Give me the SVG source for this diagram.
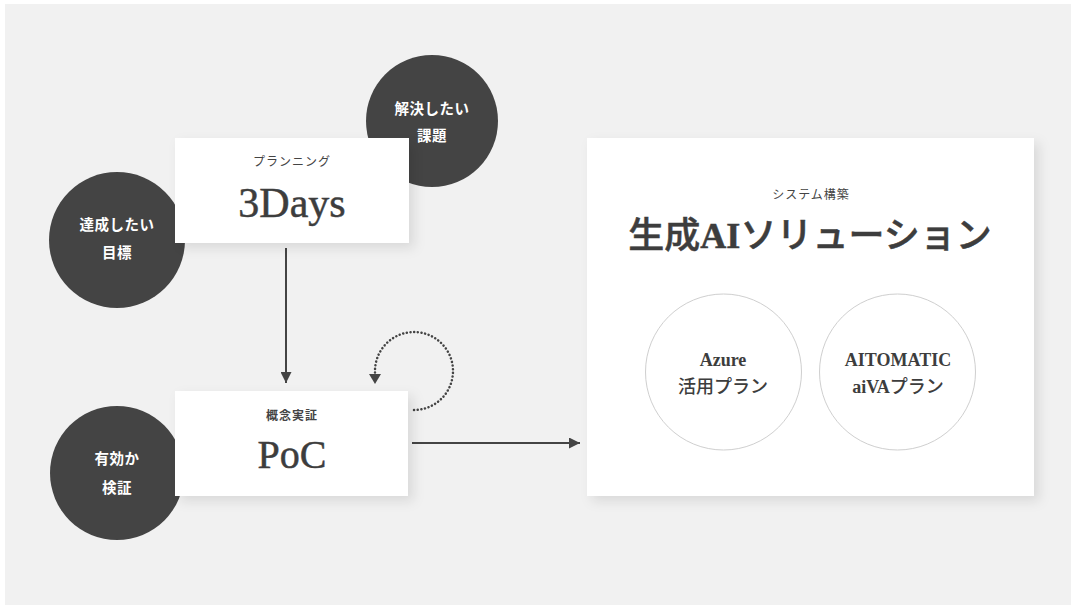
<svg xmlns="http://www.w3.org/2000/svg" width="1071" height="605" viewBox="0 0 1071 605">
<defs>
<style>
.bg{fill:#f1f1f1}
.dark{fill:#444}
.box{fill:#fff}
.ctext{font-family:"Liberation Serif","Noto Sans CJK JP",serif;fill:#fff;font-size:14.5px;font-weight:700;text-anchor:middle;letter-spacing:0.5px}
.sub{font-family:"Liberation Serif","Noto Sans CJK JP",serif;fill:#444;font-size:12px;text-anchor:middle;letter-spacing:1px}
.big{font-family:"Liberation Serif","Noto Sans CJK JP",serif;fill:#3d3d3d;text-anchor:middle;stroke:#3d3d3d;stroke-width:0.5}
.plan{fill:#fff;stroke:#cfcfcf;stroke-width:1}
.ptext{font-family:"Liberation Serif","Noto Sans CJK JP",serif;fill:#3d3d3d;font-size:18px;text-anchor:middle}
.conn{stroke:#444;stroke-width:2;fill:none}
.dot{stroke:#444;stroke-width:2.5;fill:none;stroke-dasharray:0.1 3.6;stroke-linecap:round}
</style>
<filter id="sh" x="-20%" y="-20%" width="150%" height="160%">
<feDropShadow dx="5" dy="5" stdDeviation="6" flood-color="#000" flood-opacity="0.10"/>
</filter>
<marker id="ah" viewBox="0 0 10 10" refX="10" refY="5" markerWidth="5.5" markerHeight="5.5" orient="auto" markerUnits="strokeWidth">
<path d="M0,0 L10,5 L0,10 Z" fill="#444"/>
</marker>
</defs>
<rect x="0" y="0" width="1071" height="605" fill="#fff"/>
<rect class="bg" x="5" y="4" width="1066" height="601"/>

<g id="connectors">
<line class="conn" x1="286" y1="248" x2="286" y2="383" marker-end="url(#ah)"/>
<line class="conn" x1="412" y1="443" x2="580" y2="443" marker-end="url(#ah)"/>
<path class="dot" d="M414,410 A39,39 0 1 0 375,371 L375,376"/>
<path d="M369,374 L381,374 L375,384 Z" fill="#444"/>
</g>

<g id="circle-kadai">
<circle class="dark" cx="432" cy="121" r="66"/>
<text class="ctext" x="432" y="114">解決したい</text>
<text class="ctext" x="432" y="141">課題</text>
</g>

<g id="circle-mokuhyo">
<circle class="dark" cx="117" cy="240" r="68"/>
<text class="ctext" x="117" y="230">達成したい</text>
<text class="ctext" x="117" y="258">目標</text>
</g>

<g id="circle-kensho">
<circle class="dark" cx="117" cy="473" r="67"/>
<text class="ctext" x="117" y="464">有効か</text>
<text class="ctext" x="117" y="493">検証</text>
</g>

<g id="node-3days">
<rect class="box" x="175" y="138" width="234" height="105" filter="url(#sh)"/>
<text class="sub" x="292" y="166">プランニング</text>
<text class="big" x="292" y="217" font-size="42">3Days</text>
</g>

<g id="node-poc">
<rect class="box" x="175" y="391" width="233" height="105" filter="url(#sh)"/>
<text class="sub" x="292" y="420" font-size="13" font-weight="700">概念実証</text>
<text class="big" x="292" y="468" font-size="40">PoC</text>
</g>

<g id="node-solution">
<rect class="box" x="587" y="138" width="447" height="358" filter="url(#sh)"/>
<text class="sub" x="811" y="199">システム構築</text>
<text class="big" x="810" y="248" font-size="36" font-weight="500">生成<tspan font-weight="700">AI</tspan>ソリューション</text>
<g id="plan-azure">
<circle class="plan" cx="723.5" cy="372" r="78"/>
<text class="ptext" x="723" y="366" font-weight="700">Azure</text>
<text class="ptext" x="723" y="393" font-weight="500">活用プラン</text>
</g>
<g id="plan-aiva">
<circle class="plan" cx="897.5" cy="372" r="78"/>
<text class="ptext" x="898" y="366" font-weight="700">AITOMATIC</text>
<text class="ptext" x="898" y="393" font-weight="500"><tspan font-weight="700">aiVA</tspan>プラン</text>
</g>
</g>
</svg>
